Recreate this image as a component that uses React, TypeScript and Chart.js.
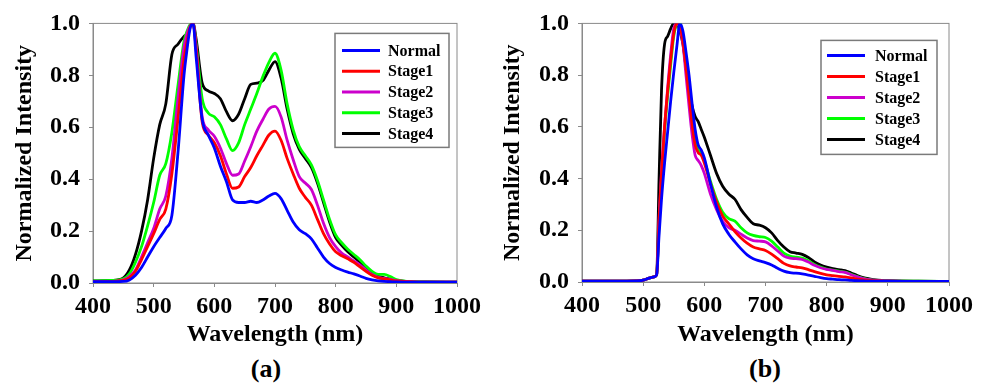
import React, { useEffect, useRef } from "react";
import { Chart, registerables } from "chart.js";

Chart.register(...registerables);

// ---------- Data ----------
const seriesLabels = ["Normal", "Stage1", "Stage2", "Stage3", "Stage4"];
const seriesColors = ["#0000ff", "#ff0000", "#cc00cc", "#00ff00", "#000000"];
const xTickValues = [400, 500, 600, 700, 800, 900, 1000];
const yTickValues = [0, 0.2, 0.4, 0.6, 0.8, 1.0];

// Panel (a)
const wavelengthsA = [400, 430, 450, 460, 470, 480, 490, 500, 510, 520, 530, 540, 550, 555, 560, 565, 570, 580, 590, 600, 610, 620, 630, 640, 650, 660, 670, 680, 690, 700, 710, 720, 730, 740, 750, 760, 770, 780, 790, 800, 810, 820, 830, 840, 850, 860, 870, 880, 890, 900, 920, 950, 1000];
const normalA = [0.005, 0.005, 0.006, 0.012, 0.03, 0.06, 0.10, 0.14, 0.175, 0.21, 0.26, 0.50, 0.80, 0.90, 0.98, 1.0, 0.87, 0.63, 0.57, 0.52, 0.45, 0.39, 0.32, 0.31, 0.31, 0.315, 0.31, 0.32, 0.335, 0.345, 0.325, 0.28, 0.235, 0.205, 0.19, 0.17, 0.135, 0.10, 0.075, 0.06, 0.05, 0.042, 0.035, 0.027, 0.018, 0.012, 0.008, 0.006, 0.005, 0.004, 0.003, 0.003, 0.003];
const stage1A = [0.005, 0.006, 0.01, 0.02, 0.045, 0.09, 0.14, 0.19, 0.245, 0.285, 0.42, 0.63, 0.86, 0.93, 0.985, 1.0, 0.90, 0.62, 0.57, 0.54, 0.49, 0.42, 0.365, 0.37, 0.41, 0.445, 0.49, 0.53, 0.57, 0.585, 0.55, 0.48, 0.42, 0.365, 0.33, 0.30, 0.245, 0.19, 0.15, 0.12, 0.105, 0.093, 0.08, 0.062, 0.045, 0.03, 0.02, 0.016, 0.012, 0.008, 0.005, 0.003, 0.003];
const stage2A = [0.005, 0.006, 0.012, 0.025, 0.05, 0.10, 0.155, 0.21, 0.285, 0.335, 0.48, 0.71, 0.91, 0.96, 0.99, 1.0, 0.91, 0.64, 0.59, 0.565, 0.52, 0.46, 0.415, 0.42, 0.47, 0.525, 0.585, 0.63, 0.67, 0.68, 0.64, 0.55, 0.475, 0.41, 0.385, 0.36, 0.30, 0.23, 0.175, 0.14, 0.115, 0.10, 0.085, 0.07, 0.05, 0.033, 0.022, 0.018, 0.014, 0.009, 0.005, 0.003, 0.003];
const stage3A = [0.008, 0.01, 0.016, 0.035, 0.08, 0.14, 0.22, 0.31, 0.415, 0.46, 0.58, 0.76, 0.93, 0.97, 0.995, 1.0, 0.92, 0.71, 0.655, 0.64, 0.61, 0.555, 0.51, 0.54, 0.61, 0.67, 0.73, 0.795, 0.85, 0.885, 0.82, 0.69, 0.59, 0.525, 0.49, 0.455, 0.395, 0.32, 0.245, 0.185, 0.155, 0.13, 0.11, 0.09, 0.065, 0.045, 0.033, 0.033, 0.025, 0.013, 0.006, 0.004, 0.003];
const stage4A = [0.008, 0.01, 0.02, 0.05, 0.11, 0.20, 0.32, 0.48, 0.61, 0.69, 0.88, 0.92, 0.95, 0.96, 0.99, 1.0, 0.94, 0.77, 0.74, 0.73, 0.71, 0.66, 0.625, 0.65, 0.71, 0.765, 0.77, 0.78, 0.82, 0.853, 0.79, 0.67, 0.575, 0.515, 0.48, 0.445, 0.385, 0.31, 0.235, 0.175, 0.145, 0.12, 0.10, 0.08, 0.055, 0.037, 0.026, 0.02, 0.015, 0.01, 0.005, 0.004, 0.003];

// Panel (b)
const wavelengthsB = [400, 450, 490, 500, 510, 518, 522, 526, 530, 535, 540, 545, 550, 555, 560, 565, 570, 575, 580, 585, 590, 595, 600, 610, 620, 630, 640, 650, 660, 670, 680, 690, 700, 710, 720, 730, 740, 750, 760, 770, 780, 790, 800, 810, 820, 830, 840, 850, 860, 870, 880, 890, 900, 950, 1000];
const normalB = [0.003, 0.003, 0.004, 0.007, 0.015, 0.02, 0.028, 0.18, 0.32, 0.46, 0.58, 0.70, 0.81, 0.91, 1.0, 0.97, 0.89, 0.80, 0.69, 0.59, 0.53, 0.51, 0.48, 0.38, 0.29, 0.225, 0.185, 0.155, 0.128, 0.105, 0.09, 0.082, 0.075, 0.066, 0.053, 0.042, 0.036, 0.034, 0.031, 0.027, 0.022, 0.017, 0.013, 0.011, 0.009, 0.008, 0.006, 0.005, 0.004, 0.003, 0.003, 0.003, 0.003, 0.002, 0.002];
const stage1B = [0.003, 0.003, 0.004, 0.007, 0.015, 0.02, 0.028, 0.24, 0.42, 0.60, 0.74, 0.86, 0.96, 1.0, 0.99, 0.93, 0.83, 0.72, 0.61, 0.53, 0.50, 0.49, 0.46, 0.38, 0.31, 0.255, 0.225, 0.195, 0.17, 0.15, 0.135, 0.128, 0.122, 0.108, 0.09, 0.072, 0.062, 0.058, 0.055, 0.048, 0.04, 0.033, 0.028, 0.025, 0.022, 0.02, 0.016, 0.011, 0.008, 0.006, 0.005, 0.004, 0.003, 0.002, 0.002];
const stage2B = [0.003, 0.003, 0.004, 0.007, 0.015, 0.02, 0.028, 0.25, 0.43, 0.60, 0.75, 0.88, 0.98, 1.0, 0.98, 0.92, 0.80, 0.68, 0.57, 0.49, 0.47, 0.45, 0.42, 0.34, 0.28, 0.235, 0.21, 0.20, 0.185, 0.17, 0.16, 0.158, 0.155, 0.14, 0.12, 0.10, 0.092, 0.09, 0.087, 0.077, 0.065, 0.055, 0.049, 0.045, 0.04, 0.037, 0.028, 0.02, 0.013, 0.009, 0.006, 0.005, 0.004, 0.002, 0.002];
const stage3B = [0.003, 0.003, 0.004, 0.007, 0.015, 0.02, 0.028, 0.22, 0.40, 0.58, 0.72, 0.84, 0.95, 0.995, 1.0, 0.95, 0.85, 0.74, 0.63, 0.55, 0.51, 0.50, 0.47, 0.39, 0.32, 0.27, 0.245, 0.235, 0.21, 0.19, 0.18, 0.175, 0.172, 0.158, 0.135, 0.112, 0.10, 0.096, 0.092, 0.082, 0.068, 0.058, 0.05, 0.046, 0.042, 0.038, 0.03, 0.021, 0.014, 0.009, 0.006, 0.005, 0.004, 0.003, 0.002];
const stage4B = [0.003, 0.003, 0.004, 0.007, 0.015, 0.02, 0.028, 0.40, 0.74, 0.92, 0.95, 0.98, 1.0, 1.0, 0.97, 0.92, 0.83, 0.75, 0.68, 0.64, 0.62, 0.59, 0.56, 0.49, 0.42, 0.37, 0.34, 0.32, 0.28, 0.25, 0.225, 0.22, 0.21, 0.19, 0.16, 0.135, 0.117, 0.112, 0.107, 0.095, 0.078, 0.066, 0.058, 0.052, 0.048, 0.044, 0.035, 0.025, 0.017, 0.012, 0.008, 0.006, 0.005, 0.003, 0.002];

// ---------- Styling ----------
const SERIF = "'Times New Roman', 'Liberation Serif', serif";
const FRAME = "#8a8a8a";

const framePlugin = {
  id: "frame",
  beforeDatasetsDraw(chart: any) {
    const { ctx, chartArea: a } = chart;
    ctx.save();
    ctx.strokeStyle = FRAME;
    ctx.lineWidth = 1;
    ctx.strokeRect(a.left, a.top, a.right - a.left, a.bottom - a.top);
    ctx.restore();
  },
};

const boxLegendPlugin = {
  id: "boxLegend",
  afterDatasetsDraw(chart: any, _args: any, o: any) {
    const { ctx, chartArea: a } = chart;
    const x0 = a.right - o.right - o.width;
    const y0 = a.top + o.top;
    ctx.save();
    ctx.fillStyle = "#ffffff";
    ctx.fillRect(x0, y0, o.width, o.height);
    ctx.strokeStyle = "#7a7a7a";
    ctx.lineWidth = 1.5;
    ctx.strokeRect(x0, y0, o.width, o.height);
    ctx.font = `bold 16px ${SERIF}`;
    ctx.textBaseline = "middle";
    ctx.textAlign = "left";
    chart.data.datasets.forEach((ds: any, i: number) => {
      const y = y0 + o.rowStart + i * o.rowGap;
      ctx.strokeStyle = ds.borderColor;
      ctx.lineWidth = 3;
      ctx.beginPath();
      ctx.moveTo(x0 + o.lineX, y);
      ctx.lineTo(x0 + o.lineX + o.lineLen, y);
      ctx.stroke();
      ctx.fillStyle = "#000";
      ctx.fillText(ds.label, x0 + o.textX, y + 1);
    });
    ctx.restore();
  },
};

type PanelCfg = {
  wl: number[];
  series: number[][];
  pad: { top: number; right: number };
  yWidth: number;
  xHeight: number;
  yTitlePad: number;
  legend: any;
};

function Panel({ cfg }: { cfg: PanelCfg }) {
  const ref = useRef<HTMLCanvasElement>(null);
  useEffect(() => {
    const datasets = cfg.series.map((vals, i) => ({
      label: seriesLabels[i],
      data: cfg.wl.map((x, j) => ({ x, y: vals[j] })),
      borderColor: seriesColors[i],
      backgroundColor: seriesColors[i],
      borderWidth: 2.8,
      pointRadius: 0,
      fill: false,
      cubicInterpolationMode: "monotone" as const,
    }));
    const tickFont = { family: SERIF, size: 24, weight: "bold" as const };
    const titleFont = { family: SERIF, size: 24, weight: "bold" as const };
    const chart = new Chart(ref.current!, {
      type: "line",
      data: { datasets },
      plugins: [framePlugin, boxLegendPlugin],
      options: {
        animation: false,
        responsive: false,
        devicePixelRatio: 1,
        layout: { padding: { left: 0, top: cfg.pad.top, right: cfg.pad.right, bottom: 0 } },
        plugins: {
          legend: { display: false },
          tooltip: { enabled: false },
          boxLegend: cfg.legend,
        } as any,
        scales: {
          x: {
            type: "linear",
            min: xTickValues[0],
            max: xTickValues[xTickValues.length - 1],
            afterBuildTicks: (s: any) => {
              s.ticks = xTickValues.map((v) => ({ value: v }));
            },
            afterFit: (s: any) => {
              s.height = cfg.xHeight;
            },
            ticks: { color: "#000", font: tickFont, padding: 5, maxRotation: 0, callback: (v: any) => String(v) },
            grid: { drawOnChartArea: false, drawTicks: true, tickLength: 4, color: FRAME },
            border: { display: true, color: FRAME, width: 1 },
            title: { display: true, text: "Wavelength (nm)", color: "#000", font: titleFont, padding: { top: 0, bottom: 0.6 } },
          },
          y: {
            type: "linear",
            min: 0,
            max: 1,
            afterBuildTicks: (s: any) => {
              s.ticks = yTickValues.map((v) => ({ value: v }));
            },
            afterFit: (s: any) => {
              s.width = cfg.yWidth;
            },
            ticks: { color: "#000", font: tickFont, padding: 9, callback: (v: any) => Number(v).toFixed(1) },
            grid: { drawOnChartArea: false, drawTicks: true, tickLength: 4, color: FRAME },
            border: { display: true, color: FRAME, width: 1 },
            title: { display: true, text: "Normalized Intensity", color: "#000", font: titleFont, padding: { top: cfg.yTitlePad, bottom: 0 } },
          },
        },
      } as any,
    });
    return () => chart.destroy();
  }, [cfg]);
  return <canvas ref={ref} width={493} height={350} style={{ display: "block", width: 493, height: 350 }} />;
}

const panelA: PanelCfg = {
  wl: wavelengthsA,
  series: [normalA, stage1A, stage2A, stage3A, stage4A],
  pad: { top: 21, right: 36 },
  yWidth: 93,
  xHeight: 67,
  yTitlePad: 10.6,
  legend: { right: 8, top: 10, width: 114, height: 114, lineX: 7, lineLen: 38, textX: 53, rowStart: 17, rowGap: 20.8 },
};

const panelB: PanelCfg = {
  wl: wavelengthsB,
  series: [normalB, stage1B, stage2B, stage3B, stage4B],
  pad: { top: 19, right: 37 },
  yWidth: 89,
  xHeight: 68,
  yTitlePad: 5.3,
  legend: { right: 12, top: 17, width: 116, height: 114, lineX: 6, lineLen: 38, textX: 54, rowStart: 15, rowGap: 21 },
};

const captionStyle: React.CSSProperties = {
  position: "absolute",
  top: 354,
  width: 80,
  height: 30,
  lineHeight: "30px",
  textAlign: "center",
  fontFamily: SERIF,
  fontWeight: "bold",
  fontSize: 26,
  color: "#000",
};

export default function App() {
  return (
    <div style={{ position: "absolute", left: 0, top: 0, width: 986, height: 387, background: "#fff", overflow: "hidden" }}>
      <div style={{ position: "absolute", left: 0, top: 0 }}>
        <Panel cfg={panelA} />
      </div>
      <div style={{ position: "absolute", left: 493, top: 0 }}>
        <Panel cfg={panelB} />
      </div>
      <div style={{ ...captionStyle, left: 266 - 40 }}>(a)</div>
      <div style={{ ...captionStyle, left: 765 - 40 }}>(b)</div>
    </div>
  );
}
